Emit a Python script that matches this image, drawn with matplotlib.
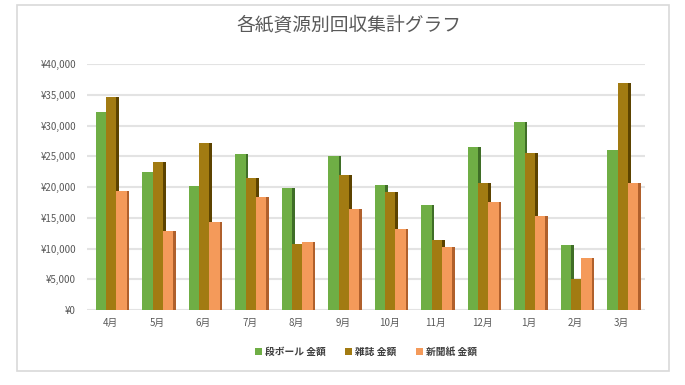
import matplotlib.pyplot as plt
import numpy as np
from matplotlib.patches import Rectangle

plt.rcParams['font.family'] = ['Noto Sans CJK JP', 'DejaVu Sans']

# data (yen)
months = ['4月', '5月', '6月', '7月', '8月', '9月', '10月', '11月', '12月', '1月', '2月', '3月']
cardboard = [32200, 22400, 20200, 25300, 19900, 25100, 20400, 17000, 26500, 30600, 10500, 26000]
magazine = [34700, 24100, 27200, 21500, 10700, 22000, 19200, 11400, 20700, 25500, 5100, 36900]
newspaper = [19400, 12800, 14300, 18400, 11100, 16400, 13200, 10300, 17600, 15300, 8500, 20600]
series_names = ['段ボール 金額', '雑誌 金額', '新聞紙 金額']

front_colors = ['#6fae45', '#a27b12', '#f49a5a']
side_colors = ['#3f6e27', '#5c4300', '#b0602c']

fig = plt.figure(figsize=(6.85, 3.85), dpi=100)
# chart frame
fig.patches.append(Rectangle((17 / 685, 1 - 371 / 385), 652 / 685, 366 / 385,
                             transform=fig.transFigure, fill=False,
                             edgecolor='#d9d9d9', linewidth=1.2))

ax = fig.add_axes([87 / 685, 1 - 310 / 385, 558 / 685, 246 / 385])

x = np.arange(len(months))
w = 0.22
side = 0.06
for i, vals in enumerate([cardboard, magazine, newspaper]):
    pos = x + (i - 1) * w + 0.02
    # side face for a bit of depth
    ax.bar(pos + w / 2 + side / 2, vals, width=side, color=side_colors[i], zorder=2 + i)
    ax.bar(pos, vals, width=w, color=front_colors[i], label=series_names[i], zorder=2 + i)

ax.set_xlim(-0.5, len(months) - 0.5)
ax.set_ylim(0, 40000)
ax.set_yticks(np.arange(0, 40001, 5000))
ax.set_yticklabels(['¥{:,}'.format(v) for v in range(0, 40001, 5000)])
ax.set_xticks(x)
ax.set_xticklabels(months)
ax.tick_params(axis='both', length=0, labelsize=7, colors='#595959')
ax.tick_params(axis='y', pad=8)
ax.tick_params(axis='x', pad=6)
ax.grid(axis='y', color='#e3e3e3', linewidth=1.5, zorder=0)
ax.set_axisbelow(True)
for s in ax.spines.values():
    s.set_visible(False)

fig.text(0.51, 1 - 25 / 385, '各紙資源別回収集計グラフ', ha='center', va='center',
         fontsize=13.5, color='#595959')

leg = ax.legend(loc='center', bbox_to_anchor=(0.5, -0.17), ncol=3, frameon=False,
                handlelength=0.7, handleheight=0.7, handletextpad=0.3, columnspacing=2.0,
                prop={'size': 7, 'weight': 'bold'})
for t in leg.get_texts():
    t.set_color('#404040')

fig.savefig('out.png', dpi=100)
